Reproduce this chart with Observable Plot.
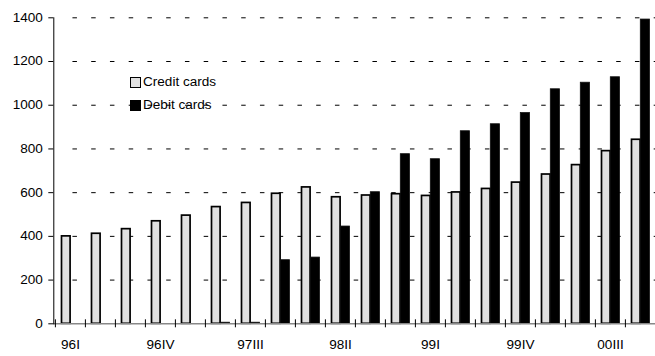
<!DOCTYPE html>
<html><head><meta charset="utf-8">
<script src="https://cdn.jsdelivr.net/npm/d3@7"></script>
<script src="https://cdn.jsdelivr.net/npm/@observablehq/plot@0.6"></script>
<style>
body{margin:0;background:#fff;overflow:hidden}
#chart{position:relative;width:655px;height:356px;overflow:hidden}
#legend{position:absolute;left:130px;top:75px;font-family:"Liberation Sans",Arial,sans-serif;font-size:12px;color:#000}
.item{position:absolute;left:0;white-space:nowrap;height:14px;line-height:14px}
.sw{position:absolute;left:0;top:2px;width:11px;height:11px;box-sizing:border-box}
.lab{position:absolute;left:13px;top:0;display:inline-block;transform:scaleX(1.13);transform-origin:left center}
</style></head><body><div id="chart"><div id="legend"></div></div>
<script>
const quarters = ["96I","96II","96III","96IV","97I","97II","97III","97IV","98I","98II","98III","98IV","99I","99II","99III","99IV","00I","00II","00III","00IV"];
const creditCards = [400,412,433,469,495,534,553,595,624,579,587,593,585,601,617,646,683,726,790,842];
const debitCards = [null,null,null,null,null,5,5,291,303,445,602,776,753,881,913,964,1073,1103,1128,1392];
const yTicks = [0,200,400,600,800,1000,1200,1400];
const xLabels = ["96I","96IV","97III","98II","99I","99IV","00III"];
const seriesNames = ["Credit cards","Debit cards"];
const seriesFill = ["#e0e0e0","#000000"];

const rows = quarters.map((q,i)=>({q, credit: creditCards[i], debit: debitCards[i]}));
const W = 655, H = 356, ml = 53.3, mr = -2.6, mt = 17.3, mb = 32.7;
const bw = (W - ml - mr) / quarters.length;

const svg = Plot.plot({
  width: W, height: H,
  marginLeft: ml, marginRight: mr, marginTop: mt, marginBottom: mb,
  style: {fontFamily: '"Liberation Sans", Arial, sans-serif', fontSize: "12px", color: "#000", background: "#fff"},
  x: {domain: quarters, padding: 0, label: null},
  y: {domain: [0, 1400], label: null},
  marks: [
    Plot.ruleY(yTicks.filter(v => v > 0), {stroke: "#000", strokeWidth: 1, strokeDasharray: "4.5,14.25", strokeDashoffset: 4.6, insetLeft: 5}),
    Plot.barY(rows, {x: "q", y: "credit", fill: seriesFill[0], stroke: "#000", strokeWidth: 1.7, insetLeft: 6.5, insetRight: bw - 15.3}),
    Plot.barY(rows, {x: "q", y: "debit", fill: seriesFill[1], stroke: "#111", strokeWidth: 0.8, insetLeft: 15.3, insetRight: 5.5}),
    Plot.ruleY([0], {stroke: "#888", strokeWidth: 1.6}),
    Plot.frame({anchor: "left", stroke: "#000"}),
    Plot.axisX({ticks: quarters, tickSize: 8, tickFormat: null, label: null, dx: -bw/2, dy: -4, stroke: "#000"}),
    Plot.axisX({ticks: xLabels, tickSize: 0, tickPadding: 17, label: null, fill: "#000"}),
    Plot.axisY({ticks: yTicks, tickSize: 5, tickPadding: 6, tickFormat: d => String(d), label: null, stroke: "#000", fill: "#000"})
  ]
});
document.getElementById("chart").prepend(svg);
svg.style.position = "absolute"; svg.style.left = "0"; svg.style.top = "0";

// widen text glyphs horizontally like the reference (around each text's anchor)
function widen(sel) {
  svg.querySelectorAll(sel).forEach(t => {
    const tr = t.getAttribute("transform");
    if (tr) {
      t.setAttribute("transform", tr + " scale(1.13,1)");
    } else {
      const x = +(t.getAttribute("x") || 0), y = +(t.getAttribute("y") || 0);
      t.removeAttribute("x"); t.removeAttribute("y");
      t.setAttribute("transform", `translate(${x},${y}) scale(1.13,1)`);
    }
  });
}
widen('g[aria-label="y-axis tick label"] text');
widen('g[aria-label="x-axis tick label"] text');

const legend = document.getElementById("legend");
seriesNames.forEach((name, i) => {
  const item = document.createElement("div");
  item.className = "item";
  item.style.top = (i * 23) + "px";
  const sw = document.createElement("span");
  sw.className = "sw";
  sw.style.background = seriesFill[i];
  sw.style.border = i === 0 ? "1.7px solid #000" : "1px solid #000";
  const lab = document.createElement("span");
  lab.className = "lab";
  lab.textContent = name;
  item.append(sw, lab);
  legend.append(item);
});
</script></body></html>
